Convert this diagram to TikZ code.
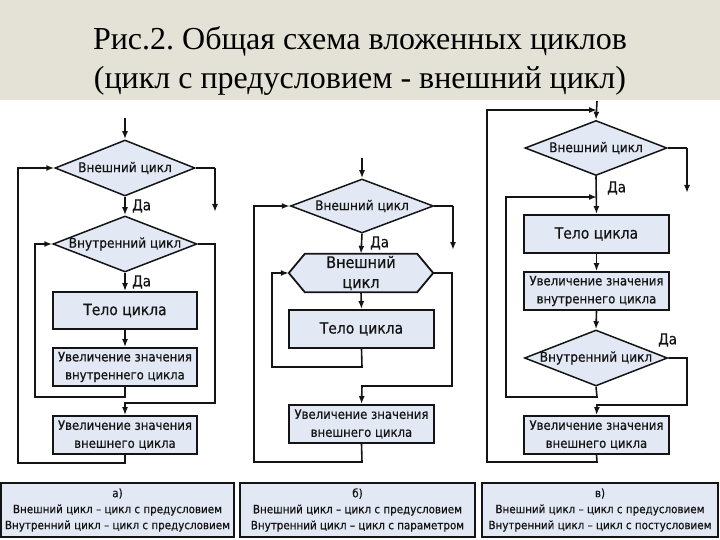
\documentclass[tikz,border=0pt]{standalone}
\usepackage{fontspec}
\setmainfont{Liberation Serif}
\newfontfamily\diafont[FakeBold=0.6]{DejaVu Sans Condensed}
\usetikzlibrary{shapes.geometric,arrows.meta,calc}
\definecolor{band}{RGB}{228,225,214}
\definecolor{boxfill}{RGB}{226,233,245}
\definecolor{ink}{RGB}{20,20,20}
\frenchspacing
\begin{document}
\begin{tikzpicture}[x=1pt,y=-1pt,
  every node/.style={font=\diafont\fontsize{13.5}{15}\selectfont, text=ink},
  blk/.style={draw=ink, line width=1.8pt, fill=boxfill, minimum width=145pt, minimum height=38pt, inner sep=0pt, align=center, font=\diafont\fontsize{13}{18}\selectfont},
  body/.style={blk, font=\diafont\fontsize{15.5}{18}\selectfont},
  dia/.style={draw=ink, line width=1.5pt, fill=boxfill, diamond, inner sep=0pt, minimum width=142pt, minimum height=55pt},
  con/.style={draw=ink, line width=1.6pt},
  arr/.style={con, -{Latex[length=8pt,width=6pt]}},
  yes/.style={font=\diafont\fontsize{15}{16}\selectfont, anchor=west, inner sep=0pt},
  capbox/.style={draw=ink, line width=1.3pt, fill=boxfill, align=center, inner sep=0pt, minimum height=54pt, font=\diafont\fontsize{11.5}{16}\selectfont},
]
\useasboundingbox (0,0) rectangle (720,540);
\fill[band] (0,0) rectangle (720,100);
\node[font=\rmfamily\fontsize{32}{38}\selectfont, anchor=base, text=black] (title1) at (360,50) {Рис.2. Общая схема вложенных циклов};
\node[font=\rmfamily\fontsize{32}{38}\selectfont, anchor=base, text=black] (title2) at (360,89) {(цикл с предусловием - внешний цикл)};

% ---------- panel a ----------
\coordinate (a0) at (125,118);
\node[dia, minimum width=140pt, minimum height=56pt] (d1) at (125,168) {};
\node at (d1) {Внешний цикл};
\node[dia, minimum width=144pt, minimum height=56pt] (d2) at (125,244) {};
\node at (d2) {Внутренний цикл};
\node[body, minimum width=144pt, minimum height=37pt] (t1) at (125,310.5) {Тело цикла};
\node[blk, minimum width=144pt] (u1) at (125,367) {Увеличение значения\\внутреннего цикла};
\node[blk, minimum width=144pt] (v1) at (125,435) {Увеличение значения\\внешнего цикла};
\coordinate (a1) at (215,168);
\coordinate (a2) at (215,212);
\draw[arr] (a0) -- (d1.north);
\draw[con] (d1.east) -- (a1);
\draw[arr] (a1) -- (a2);
\draw[arr] (d1.south) -- (d2.north);
\node[yes] (da1) at (132,206) {Да};
\draw[arr] (d2.south) -- (t1.north);
\node[yes] (da2) at (132,282) {Да};
\draw[arr] (t1.south) -- (u1.north);
\draw[arr] (u1.south) -- (125,397) -- (35,397) -- (35,244) -- (d2.west);
\draw[arr] (d2.east) -- (215,244) -- (215,403) -- (125,403) -- (v1.north);
\draw[arr] (v1.south) -- (125,463) -- (18,463) -- (18,168) -- (d1.west);

% ---------- panel b ----------
\coordinate (b0) at (362,158);
\node[dia, minimum width=143pt, minimum height=54pt] (d3) at (362,206) {};
\node at (d3) {Внешний цикл};
\node[minimum width=144pt, minimum height=38pt, inner sep=0pt] (hx) at (361,273) {};
\draw[draw=ink, line width=1.8pt, fill=boxfill] (hx.west) -- ([xshift=16pt]hx.north west) -- ([xshift=-16pt]hx.north east) -- (hx.east) -- ([xshift=-16pt]hx.south east) -- ([xshift=16pt]hx.south west) -- cycle;
\node[align=center, font=\diafont\fontsize{16}{20}\selectfont] at (hx) {Внешний\\цикл};
\node[body] (t2) at (361.5,329) {Тело цикла};
\node[blk] (v2) at (361.5,424) {Увеличение значения\\внешнего цикла};
\coordinate (b1) at (453,206);
\coordinate (b2) at (453,250);
\draw[arr] (b0) -- (d3.north);
\draw[con] (d3.east) -- (b1);
\draw[arr] (b1) -- (b2);
\draw[arr] (d3.south) -- (hx.north);
\node[yes] (da3) at (370,243) {Да};
\draw[arr] (hx.south) -- (t2.north);
\draw[arr] (t2.south) -- (362,367) -- (272,367) -- (272,273) -- (hx.west);
\draw[arr] (hx.east) -- (452,273) -- (452,386) -- (362,386) -- (v2.north);
\draw[arr] (v2.south) -- (362,462) -- (254,462) -- (254,206) -- (d3.west);

% ---------- panel c ----------
\coordinate (c0) at (597,101);
\coordinate (c1) at (597,110);
\coordinate (c2) at (597,197);
\node[dia, minimum width=142pt, minimum height=55pt] (d4) at (596,148) {};
\node at (d4) {Внешний цикл};
\node[body] (t3) at (596.5,234) {Тело цикла};
\node[blk] (u3) at (596.5,291) {Увеличение значения\\внутреннего цикла};
\node[dia, minimum width=143pt, minimum height=56pt] (d5) at (596,358) {};
\node at (d5) {Внутренний цикл};
\node[blk] (v3) at (596.5,435) {Увеличение значения\\внешнего цикла};
\coordinate (c3) at (687,148);
\coordinate (c4) at (687,193);
\draw[arr] (c0) -- (d4.north);
\draw[arr] (v3.south) -- (597,462) -- (487,462) -- (487,110) -- (c1);
\draw[con] (d4.east) -- (c3);
\draw[arr] (c3) -- (c4);
\draw[arr] (d4.south) -- (t3.north);
\node[yes] (da4) at (607,188) {Да};
\draw[arr] (t3.south) -- (u3.north);
\draw[arr] (u3.south) -- (d5.north);
\draw[arr] (d5.south) -- (597,397) -- (506,397) -- (506,197) -- (c2);
\draw[arr] (d5.east) -- (687,358) -- (687,405) -- (597,405) -- (v3.north);
\node[yes] (da5) at (658,340) {Да};

% ---------- captions ----------
\node[capbox, minimum width=233pt] (ca) at (117.5,510) {а)\\Внешний цикл – цикл с предусловием\\Внутренний цикл – цикл с предусловием};
\node[capbox, minimum width=235pt] (cb) at (357.5,510) {б)\\Внешний цикл – цикл с предусловием\\Внутренний цикл – цикл с параметром};
\node[capbox, minimum width=236pt] (cc) at (600,510) {в)\\Внешний цикл – цикл с предусловием\\Внутренний цикл – цикл с постусловием};
\end{tikzpicture}
\end{document}
